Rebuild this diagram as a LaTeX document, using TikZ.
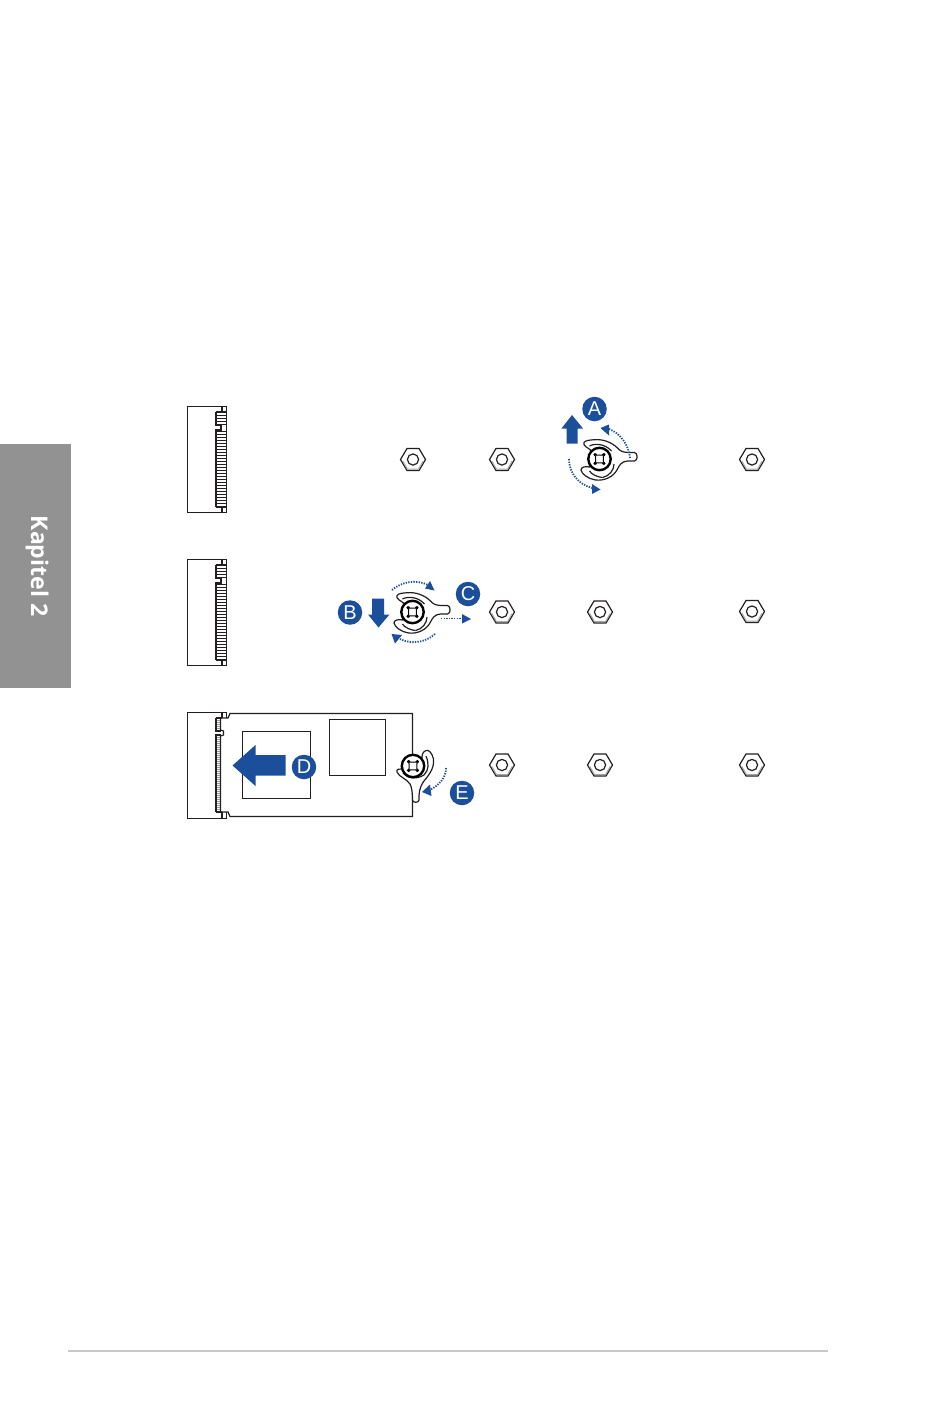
\documentclass[tikz,border=0pt]{standalone}
\usepackage{fontspec}
\setmainfont{Liberation Sans}
\newfontfamily\tabfont{Open Sans}
\definecolor{asusblue}{HTML}{1B4F9C}
\definecolor{tabgray}{HTML}{939292}
\definecolor{rulegray}{HTML}{C9C9C9}
\definecolor{inkline}{HTML}{231F20}
\tikzset{
  outline/.style={draw=inkline,line width=1.2pt,fill=white},
  badge/.style={circle,fill=asusblue,text=white,inner sep=0pt,minimum size=24.5pt,font=\fontsize{20}{20}\selectfont},
  blockarrow/.style={fill=asusblue,draw=none},
  dotarrow/.style={draw=asusblue,line width=1.8pt,dash pattern=on 1.3pt off 1.3pt},
  nut/.pic={
    \fill[white] (-12.5,0) -- (-6,-11) -- (6,-11) -- (12.5,0) -- (6,11) -- (-6,11) -- cycle;
    \draw[line width=1.2pt,inkline,line join=miter] (-12.5,0) -- (-6,-11) -- (6,-11) -- (12.5,0) -- (6,11) -- (-6,11) -- cycle;
    \draw[line width=1pt,gray!70] (-10.2,1.5) -- (-5.5,9.7) -- (5.5,9.7) -- (10.2,1.5);
    \draw[line width=1.2pt,inkline] (0,0) circle (5.6);
  },
  hub/.pic={
    \draw[line width=2.4pt,black,fill=white] (0,0) circle (11.2);
    \draw[line width=1.1pt,black] (-5.2,-3.9) -- (-3.9,-2.9) -- (-3.9,2.9) -- (-5.2,3.9)
      (5.2,-3.9) -- (3.9,-2.9) -- (3.9,2.9) -- (5.2,3.9)
      (-3.9,-5.2) -- (-2.9,-3.9) -- (2.9,-3.9) -- (3.9,-5.2)
      (-3.9,5.2) -- (-2.9,3.9) -- (2.9,3.9) -- (3.9,5.2);
    \foreach \sx in {-1,1}{\foreach \sy in {-1,1}{
      \fill[black] (4.5*\sx,4.5*\sy) circle (1.6);
    }}
  },
  latchside/.pic={
    \draw[outline,line join=round] (-9,-9) .. controls (-11,-11) and (-17,-13) .. (-15.5,-16.5)
      .. controls (-14,-19) and (-8,-19) .. (-5,-19.3)
      .. controls (3,-20) and (12,-17) .. (18,-11)
      .. controls (21,-7.5) and (24,-6.5) .. (30,-6.5) -- (35,-6.5)
      .. controls (38.5,-6) and (38.5,1.5) .. (35,2) -- (28,2)
      .. controls (22,2.5) and (20,6) .. (18,10)
      .. controls (14,18) and (5,22) .. (-4,21)
      .. controls (-11,20) and (-18,15) .. (-18.5,11)
      .. controls (-18.5,8) and (-14,7) .. (-10,8) -- cycle;
    \draw[line width=1.2pt,inkline] (-10,-13) .. controls (-6,-15.5) and (5,-16) .. (12,-8);
    \draw[line width=1.2pt,inkline] (3,18.5) .. controls (10,17) and (14.5,11) .. (14.5,5);
    \draw[line width=1.2pt,inkline] (-10,12) .. controls (-8,15.5) and (-2,18) .. (3,18.5);
    \pic {hub};
  },
  latchdown/.pic={
    \draw[outline,line join=round] (-11,3) .. controls (-13,3) and (-17,2.5) .. (-16,6)
      .. controls (-14,11) and (-6,13) .. (-3,18)
      .. controls (-1,21) and (-.5,28) .. (-.5,34)
      .. controls (-.5,37) and (6,37) .. (6,34)
      .. controls (6,27) and (6,22) .. (11,15)
      .. controls (16,9) and (21.5,2) .. (20.5,-7)
      .. controls (19,-13) and (16,-16.5) .. (13,-15.5)
      .. controls (9,-14) and (9,-10) .. (9,-8) -- (0,0) -- cycle;
    \draw[line width=1.2pt,inkline] (-10,7) .. controls (-6,12) and (3,14) .. (11,9);
    \draw[line width=1.2pt,inkline] (11,9) .. controls (16,4) and (16,-3) .. (13,-10);
    \pic {hub};
  }
}
\begin{document}
\begin{tikzpicture}[x=1pt,y=-1pt]
\useasboundingbox (0,0) rectangle (950,1425);
\fill[white] (0,0) rectangle (950,1425);
% side tab and footer rule
\fill[tabgray] (0,444) rectangle (71,688);
\node[rotate=-90,text=white,inner sep=0pt,font=\tabfont\bfseries\fontsize{23}{23}\selectfont] (tabtext) at (37,566) {Kapitel 2};
\draw[rulegray,line width=1.6pt] (68,1351) -- (828,1351);

% connector row 1
\draw[outline] (187.5,406.5) rectangle (226.5,512.5);
\draw[line width=1.2pt,inkline] (222,406.5) -- (222,412) (216,412) -- (226.5,412);
\draw[line width=1.2pt,inkline] (222,512.5) -- (222,507) (216,507) -- (226.5,507);
\draw[line width=1.2pt,inkline] (216,412) -- (216,425) -- (221,425) -- (221,430) -- (216,430) -- (216,507);
\foreach \ty in {415,418,421,424}{\draw[line width=.8pt,inkline] (216,\ty) -- (226.5,\ty);}
\foreach \ty in {431,434,...,506}{\draw[line width=.8pt,inkline] (216,\ty) -- (226.5,\ty);}

% connector row 2
\draw[outline] (187.5,559.5) rectangle (226.5,665.5);
\draw[line width=1.2pt,inkline] (222,559.5) -- (222,565) (216,565) -- (226.5,565);
\draw[line width=1.2pt,inkline] (222,665.5) -- (222,660) (216,660) -- (226.5,660);
\draw[line width=1.2pt,inkline] (216,565) -- (216,578) -- (221,578) -- (221,583) -- (216,583) -- (216,660);
\foreach \ty in {568,571,574,577}{\draw[line width=.8pt,inkline] (216,\ty) -- (226.5,\ty);}
\foreach \ty in {584,587,...,659}{\draw[line width=.8pt,inkline] (216,\ty) -- (226.5,\ty);}

% connector row 3 with module
\draw[outline] (187.5,712.5) rectangle (226.5,818.5);
\draw[outline] (230,713.5) -- (412.5,713.5) -- (412.5,816.5) -- (230,816.5)
  -- (228,812) -- (220.5,812) -- (220.5,736) -- (223.5,735) -- (223.5,731) -- (220.5,730) -- (220.5,718) -- (228,718) -- cycle;
\draw[line width=1.2pt,inkline] (222,712.5) -- (222,718) (222,818.5) -- (222,812);
\draw[line width=1.2pt,inkline] (216,718) -- (222,718) (216,812) -- (222,812);
\draw[line width=1.2pt,inkline] (216,718) -- (216,731) -- (221,731) (221,735) -- (216,735) -- (216,812);
\foreach \ty in {720,722,...,729}{\draw[line width=.8pt,gray!80] (216.6,\ty) -- (220,\ty);}
\foreach \ty in {737,739,...,810}{\draw[line width=.8pt,gray!80] (216.6,\ty) -- (220,\ty);}
\draw[line width=1pt,inkline] (242.5,731.5) rectangle (310.5,798.5);
\draw[line width=1pt,inkline] (329.5,719.5) rectangle (385,775.5);

% nuts
\pic at (413,459.5) {nut};
\pic at (502,459.5) {nut};
\pic at (752,459.5) {nut};
\pic at (502,612) {nut};
\pic at (600,612) {nut};
\pic at (752,611.5) {nut};
\pic at (502,765) {nut};
\pic at (600,765) {nut};
\pic at (752,765) {nut};

% latches
\pic at (599.5,459) {latchside};
\pic at (412.5,612) {latchside};
\pic at (413,766) {latchdown};

% badges
\node[badge] (A) at (594.5,409) {A};
\node[badge] (B) at (350,612.5) {B};
\node[badge] (C) at (468,594) {C};
\node[badge] (D) at (304,767) {D};
\node[badge] (E) at (462,793) {E};

% block arrows
\fill[blockarrow] (572,415) -- (583,428.5) -- (577.5,428.5) -- (577.5,443.5) -- (566.5,443.5) -- (566.5,428.5) -- (561.5,428.5) -- cycle;
\fill[blockarrow] (378.5,627.5) -- (389.5,614.5) -- (384,614.5) -- (384,598.5) -- (372,598.5) -- (372,614.5) -- (368,614.5) -- cycle;
\fill[blockarrow] (232.5,765.5) -- (255.5,745) -- (255.5,755) -- (285.5,755) -- (285.5,775.5) -- (255.5,775.5) -- (255.5,786) -- cycle;

% dotted arrows
\coordinate (a1s) at (630,458);
\coordinate (a1e) at (609,429);
\coordinate (a2s) at (569,459);
\coordinate (a2e) at (592,488);
\coordinate (b1s) at (392,590);
\coordinate (b1e) at (428,585);
\coordinate (b2s) at (435,634);
\coordinate (b2e) at (400,639);
\coordinate (c1s) at (441,618.5);
\coordinate (c1e) at (462,618.5);
\coordinate (e1s) at (446,768);
\coordinate (e1e) at (430,790);
\draw[dotarrow] (a1s) .. controls (629,445) and (620,433) .. (a1e);
\draw[dotarrow] (a2s) .. controls (569,473) and (578,484) .. (a2e);
\draw[dotarrow] (b1s) .. controls (401,582) and (416,579) .. (b1e);
\draw[dotarrow] (b2s) .. controls (426,642) and (412,645) .. (b2e);
\draw[dotarrow] (c1s) -- (c1e);
\draw[dotarrow] (e1s) .. controls (446,778) and (439,785) .. (e1e);
\fill[asusblue] (600.5,428) -- (609,424.5) -- (609,435.5) -- cycle;
\fill[asusblue] (600.5,489.5) -- (592,484) -- (592,494) -- cycle;
\fill[asusblue] (434.5,590.5) -- (430,581) -- (425,588.5) -- cycle;
\fill[asusblue] (391.5,634) -- (402,635) -- (395,643.5) -- cycle;
\fill[asusblue] (471,619) -- (462,614) -- (462,623.5) -- cycle;
\fill[asusblue] (422,792) -- (430,784.5) -- (431.5,796) -- cycle;
\end{tikzpicture}
\end{document}
